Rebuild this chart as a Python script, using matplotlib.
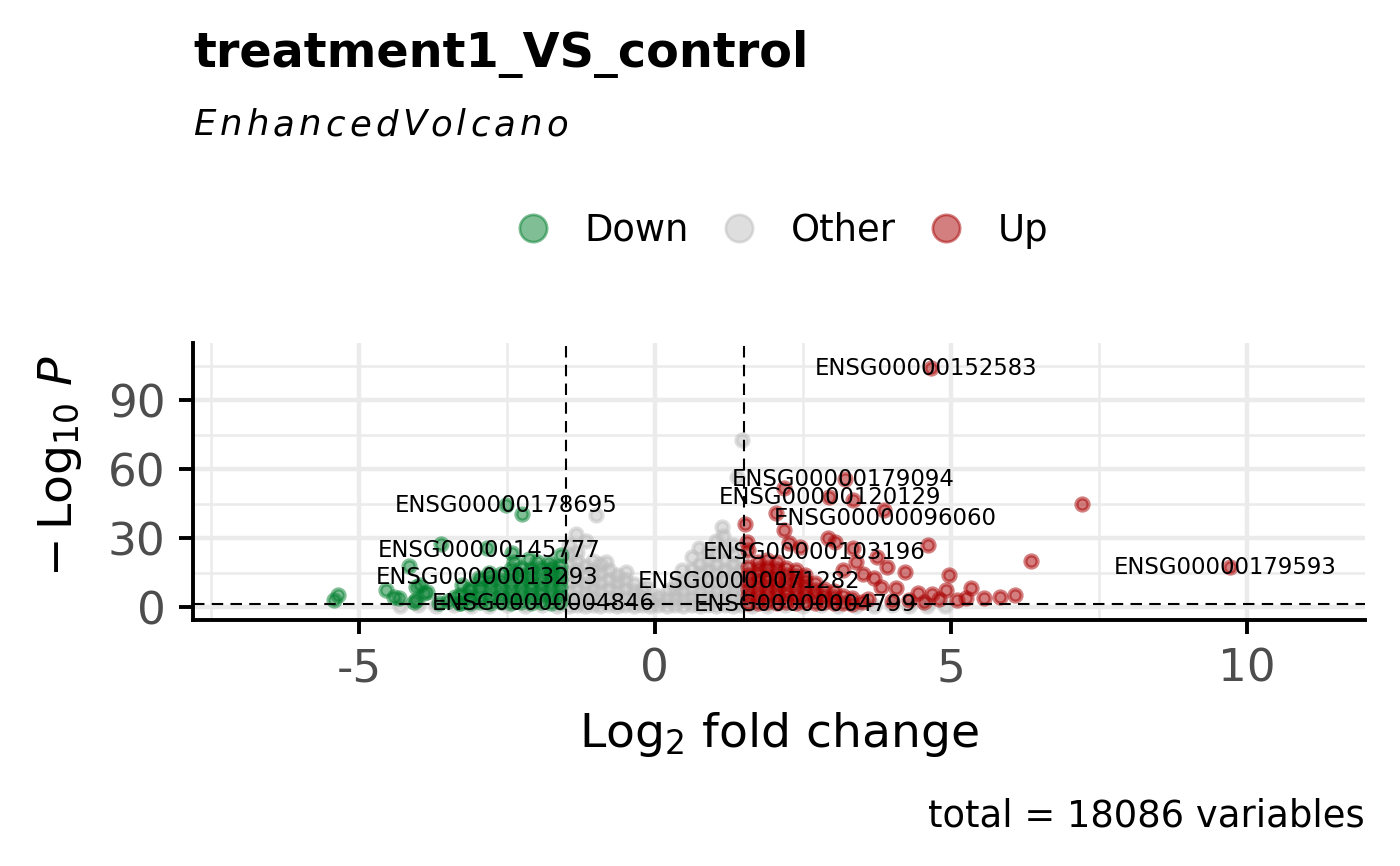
import matplotlib.pyplot as plt
from matplotlib.lines import Line2D

plt.rcParams['font.family'] = 'DejaVu Sans'
plt.rcParams['axes.unicode_minus'] = False

# points: (log2 fold change, -log10 p)
other_pts = [
    (-1.45, 0.6), (-1.45, 3.5), (-1.45, 7), (-1.45, 11), (-1.45, 15), (-1.45, 19), (-1.45, 23), (-1.45, 27),
    (-1.32, 0.8), (-1.32, 4), (-1.32, 8), (-1.32, 12), (-1.32, 16), (-1.32, 20), (-1.32, 24), (-1.34, 32),
    (-1.18, 0.5), (-1.18, 3), (-1.18, 6.5), (-1.18, 10), (-1.18, 14), (-1.18, 18), (-1.17, 29),
    (-1.05, 1), (-1.05, 4.5), (-1.05, 8), (-1.05, 12), (-1.05, 16), (-1.05, 20), (-1.0, 40),
    (-0.92, 0.4), (-0.92, 3), (-0.92, 7), (-0.92, 11), (-0.92, 15), (-0.92, 19),
    (-0.78, 0.9), (-0.78, 4), (-0.78, 8), (-0.78, 12), (-0.78, 16), (-0.83, 19.7),
    (-0.64, 0.5), (-0.64, 3.5), (-0.64, 7), (-0.64, 11), (-0.64, 14),
    (-0.5, 1), (-0.5, 4), (-0.5, 8), (-0.5, 12), (-0.49, 15.2),
    (-0.36, 0.6), (-0.36, 3.5), (-0.36, 7), (-0.36, 10),
    (-0.22, 1), (-0.22, 4), (-0.22, 7.5),
    (-0.08, 0.5), (-0.08, 3), (-0.15, 8.7),
    (0.06, 1), (0.06, 3.5), (0.06, 5),
    (0.2, 0.6), (0.2, 3.5), (0.24, 7.4),
    (0.34, 1), (0.34, 4), (0.34, 8), (0.36, 10.5),
    (0.48, 0.5), (0.48, 3.5), (0.48, 7), (0.48, 11), (0.46, 16),
    (0.62, 1), (0.62, 4), (0.62, 8), (0.62, 12), (0.62, 16), (0.63, 21.7),
    (0.76, 0.6), (0.76, 3.5), (0.76, 7.5), (0.76, 11), (0.76, 15), (0.76, 19), (0.74, 25.6),
    (0.9, 1), (0.9, 4), (0.9, 8), (0.9, 12), (0.9, 16), (0.9, 20), (0.9, 24),
    (1.04, 0.5), (1.04, 3.5), (1.04, 7), (1.04, 11), (1.04, 15), (1.04, 19), (1.04, 23), (1.03, 29),
    (1.18, 1), (1.18, 4.5), (1.18, 8), (1.18, 12), (1.18, 16), (1.18, 20), (1.18, 25), (1.16, 31), (1.13, 34.8),
    (1.32, 0.6), (1.32, 4), (1.32, 7.5), (1.32, 11), (1.32, 15), (1.32, 19), (1.32, 23), (1.32, 27), (1.39, 56.5),
    (1.45, 1), (1.45, 4), (1.45, 8), (1.45, 12), (1.45, 16), (1.45, 20), (1.47, 72.6),
    (-4.3, 0.5), (-4.0, 0.8), (-3.7, 0.4), (-3.4, 0.9), (-3.1, 0.6), (-2.8, 0.3), (-2.5, 0.8),
    (-2.2, 0.5), (-1.9, 0.9), (-1.65, 0.6),
    (1.65, 0.7), (1.9, 0.4), (2.2, 0.9), (2.5, 0.5), (2.8, 0.8), (3.1, 0.3), (3.4, 0.7),
    (3.7, 0.5), (4.0, 0.9), (4.3, 0.4), (4.6, 0.6), (4.9, 0.3),
]

down_pts = [
    (-3.30, 2.0), (-3.30, 5.5),
    (-3.12, 1.8), (-3.12, 4.5), (-3.12, 8.0),
    (-2.95, 2.2), (-2.95, 5.0), (-2.95, 8.5), (-2.95, 11.5),
    (-2.78, 1.9), (-2.78, 4.8), (-2.78, 7.8), (-2.78, 10.8), (-2.78, 13.5),
    (-2.60, 2.1), (-2.60, 5.2), (-2.60, 8.2), (-2.60, 11.2), (-2.60, 14.5),
    (-2.43, 1.7), (-2.43, 4.6), (-2.43, 7.6), (-2.43, 10.6), (-2.43, 13.8), (-2.43, 16.5),
    (-2.26, 2.3), (-2.26, 5.3), (-2.26, 8.4), (-2.26, 11.4), (-2.26, 14.2), (-2.26, 17.2),
    (-2.09, 1.8), (-2.09, 4.7), (-2.09, 7.7), (-2.09, 10.7), (-2.09, 13.6), (-2.09, 16.8),
    (-1.92, 2.2), (-1.92, 5.1), (-1.92, 8.1), (-1.92, 11.1), (-1.92, 14.0), (-1.92, 17.0),
    (-1.75, 1.9), (-1.75, 4.9), (-1.75, 7.9), (-1.75, 10.9), (-1.75, 13.9), (-1.75, 16.2),
    (-1.60, 2.1), (-1.60, 5.4), (-1.60, 8.6), (-1.60, 12.0), (-1.60, 15.0), (-1.60, 18.0),
    (-2.24, 40.4), (-2.52, 44.3), (-3.62, 27.7), (-2.84, 25.6), (-1.59, 22.6), (-2.38, 19.7),
    (-2.13, 20.9), (-1.99, 19.7), (-1.79, 19.1), (-2.42, 23.5), (-4.16, 17.8), (-4.55, 7.4),
    (-4.40, 4.5), (-4.32, 3.9), (-5.35, 5.2), (-5.42, 3.0), (-4.04, 3.0), (-3.90, 6.1),
    (-3.96, 9.6), (-3.85, 6.7), (-3.37, 4.5), (-3.26, 9.6), (-3.14, 7.4), (-2.97, 12.6),
    (-2.80, 14.8), (-1.74, 17.4), (-4.04, 8.7), (-4.07, 2.2), (-3.65, 1.7), (-3.5, 2.5),
    (-3.3, 1.9),
]

up_pts = [
    (1.58, 2.0), (1.58, 5.0), (1.58, 8.0), (1.58, 11.0), (1.58, 14.0), (1.58, 17.5),
    (1.74, 1.8), (1.74, 4.8), (1.74, 7.8), (1.74, 10.8), (1.74, 13.8), (1.74, 16.8), (1.74, 19.8),
    (1.90, 2.2), (1.90, 5.2), (1.90, 8.2), (1.90, 11.2), (1.90, 14.2), (1.90, 17.2), (1.90, 20.5),
    (2.06, 1.7), (2.06, 4.7), (2.06, 7.7), (2.06, 10.7), (2.06, 13.7), (2.06, 16.5), (2.06, 19.5),
    (2.22, 2.1), (2.22, 5.1), (2.22, 8.1), (2.22, 11.1), (2.22, 14.1), (2.22, 17.0),
    (2.38, 1.9), (2.38, 4.9), (2.38, 7.9), (2.38, 10.9), (2.38, 13.6), (2.38, 16.0),
    (2.54, 2.2), (2.54, 5.2), (2.54, 8.2), (2.54, 11.2), (2.54, 14.0),
    (2.70, 1.8), (2.70, 4.6), (2.70, 7.6), (2.70, 10.4),
    (2.86, 2.1), (2.86, 5.0), (2.86, 8.0),
    (3.02, 1.7), (3.02, 4.4), (3.02, 7.2),
    (3.18, 2.0), (3.18, 5.0), (3.34, 1.6), (3.34, 4.0), (3.50, 2.3),
    (4.66, 104.3), (3.22, 55.9), (2.19, 52.0), (2.95, 47.8), (3.35, 46.5), (7.22, 44.8),
    (2.04, 41.0), (3.88, 42.2), (1.53, 36.0), (2.18, 33.7), (1.56, 28.5), (2.93, 30.0),
    (3.05, 28.3), (4.62, 27.0), (2.27, 27.8), (2.46, 26.2), (6.35, 20.0), (3.35, 25.6),
    (3.75, 22.0), (3.40, 19.6), (3.92, 17.4), (4.22, 15.5), (4.97, 13.9), (3.18, 16.0),
    (3.52, 14.3), (3.70, 12.8), (4.08, 8.2), (3.82, 8.9), (5.34, 8.4), (4.92, 7.4),
    (6.08, 5.4), (5.84, 4.6), (5.57, 3.8), (5.25, 4.2), (5.10, 3.1), (4.68, 5.6),
    (4.45, 6.3), (9.72, 17.5), (1.58, 24.8), (4.30, 3.0), (4.0, 2.5), (3.6, 3.5),
    (4.80, 3.5), (4.55, 2.2),
]

gene_names = ['ENSG00000152583', 'ENSG00000179094', 'ENSG00000120129', 'ENSG00000096060',
              'ENSG00000103196', 'ENSG00000071282', 'ENSG00000004799', 'ENSG00000179593',
              'ENSG00000178695', 'ENSG00000145777', 'ENSG00000013293', 'ENSG00000004846']
gene_x = [4.59, 3.18, 2.96, 3.90, 2.70, 1.59, 2.55, 9.63, -2.52, -2.80, -2.84, -1.88]
gene_y = [103.9, 55.6, 47.6, 38.7, 23.9, 11.3, 1.3, 17.4, 44.3, 24.8, 13.0, 1.7]

fc_cut = 1.5
p_cut = 1.3

other_lfc, other_logp = zip(*other_pts)
down_lfc, down_logp = zip(*down_pts)
up_lfc, up_logp = zip(*up_pts)

c_down = '#027F2E'
c_other = '#BEBEBE'
c_up = '#A80000'

fig = plt.figure(figsize=(7, 4.33), dpi=200)
ax = fig.add_axes([0.138, 0.284, 0.837, 0.320])

for xs, ys, c in [(other_lfc, other_logp, c_other), (down_lfc, down_logp, c_down), (up_lfc, up_logp, c_up)]:
    ax.scatter(xs, ys, s=19, c=c, edgecolors=c, linewidths=1.5, alpha=0.5, zorder=3)

ax.axvline(-fc_cut, color='black', lw=0.75, dashes=(5.5, 3.5), zorder=4)
ax.axvline(fc_cut, color='black', lw=0.75, dashes=(5.5, 3.5), zorder=4)
ax.axhline(p_cut, color='black', lw=0.75, dashes=(5.5, 3.5), zorder=4)

for name, gx, gy in zip(gene_names, gene_x, gene_y):
    ax.text(gx, gy, name, fontsize=8.2, ha='center', va='center', zorder=5)

ax.set_xlim(-7.8, 12)
ax.set_ylim(-5.6, 115)
ax.set_xticks([-5, 0, 5, 10])
ax.set_xticks([-7.5, -2.5, 2.5, 7.5], minor=True)
ax.set_yticks([0, 30, 60, 90])
ax.set_yticks([15, 45, 75, 105], minor=True)
ax.grid(which='major', color='#EBEBEB', lw=1.6)
ax.grid(which='minor', color='#EBEBEB', lw=0.9)
ax.set_axisbelow(True)
for s in ['top', 'right']:
    ax.spines[s].set_visible(False)
for s in ['left', 'bottom']:
    ax.spines[s].set_linewidth(1.4)
ax.tick_params(which='major', length=5, width=1.4, colors='black', labelcolor='#4D4D4D', labelsize=16.3, pad=5)
ax.tick_params(which='minor', length=0)

ax.set_xlabel(r'$\mathrm{Log}_{2}$ fold change', fontsize=17, labelpad=7)
ax.set_ylabel(r'$-\,\mathrm{Log}_{10}\ \mathit{P}$', fontsize=17)
ax.yaxis.set_label_coords(-0.093, 0.556)

fig.text(0.138, 0.9226, 'treatment1_VS_control', fontsize=17.2, fontweight='bold', va='baseline')

# spaced italic subtitle: place letters one by one to span the same width
r = fig.canvas.get_renderer()
sub_chars = [fig.text(0, 0.844, ch, fontsize=12.8, style='italic', va='baseline') for ch in 'EnhancedVolcano']
widths = [t.get_window_extent(r).width / 1400 for t in sub_chars]
gap = (375 / 1400 - sum(widths)) / (len(widths) - 1)
xp = 0.138
for t, w in zip(sub_chars, widths):
    t.set_x(xp)
    xp += w + gap

fig.text(0.975, 0.046, 'total = 18086 variables', fontsize=13.3, ha='right', va='baseline')

handles = [Line2D([], [], marker='o', ls='none', markersize=9.8, markerfacecolor=c,
                  markeredgecolor=c, markeredgewidth=1.0, alpha=0.5) for c in [c_down, c_other, c_up]]
fig.legend(handles, ['Down', 'Other', 'Up'], loc='center', bbox_to_anchor=(0.558, 0.734), ncol=3,
           frameon=False, fontsize=13.3, handlelength=1.0, handletextpad=0.9, columnspacing=0.85)

fig.savefig('out.png', dpi=200)
